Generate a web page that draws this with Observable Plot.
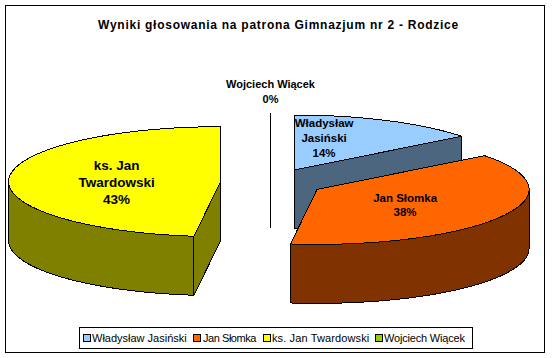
<!DOCTYPE html>
<html><head><meta charset="utf-8">
<script src="https://cdn.jsdelivr.net/npm/d3@7"></script>
<script src="https://cdn.jsdelivr.net/npm/@observablehq/plot@0.6"></script>
<style>
html,body{margin:0;padding:0;background:#fff}
#c{position:relative;width:555px;height:358px;overflow:hidden;font-family:"Liberation Sans",Arial,sans-serif;color:#000}
#c svg{position:absolute;left:0;top:0}
#frame{position:absolute;left:5px;top:5px;width:538px;height:346px;border:1px solid #000;box-sizing:content-box}
#title{position:absolute;left:0;width:555px;top:17px;text-align:center;padding-left:1px;font-weight:bold;font-size:12px;letter-spacing:.735px;line-height:16px;white-space:nowrap}
#legend{position:absolute;left:79px;top:327px;width:392px;height:20px;border:1px solid #000;background:#fff}
#legend i{position:absolute;top:6px;width:6px;height:6px;border:1px solid #000}
#legend span{position:absolute;top:3px;font-size:11px;line-height:14px;white-space:nowrap}
</style></head><body>
<div id="c"><div id="frame"></div><div id="title"></div><div id="plot"></div><div id="legend"></div></div>
<script>
const title = "Wyniki głosowania na patrona Gimnazjum nr 2 - Rodzice";
const names = ["Władysław Jasiński", "Jan Słomka", "ks. Jan Twardowski", "Wojciech Wiącek"];
const labels = ["Władysław\nJasiński\n14%", "Jan Słomka\n38%", "ks. Jan\nTwardowski\n43%", "Wojciech Wiącek\n0%"];
const shares = [14.5, 37.5, 48, 0];        // drawn sweep
const topColors = ["#99CCFF", "#FF6600", "#FFFF00", "#99CC00"];
const sideColors = ["#4D6680", "#803300", "#808000", "#4D6600"];

// pie geometry in rim-radius units
const explode = [0.253, 0.253, 0.236, 0.253];
const ASPECT = 55 / 212, DEPTH = 59 / 212;
const pxX = 212, cx0 = 270, cy0 = 182;
const rad = d => d * Math.PI / 180;

let a = 0;
const slices = shares.map((s, i) => {
  const start = a, end = a + s * 3.6; a = end;
  const mid = rad((start + end) / 2);
  return {i, start, end, cx: Math.sin(mid) * explode[i], cy: Math.cos(mid) * explode[i] * ASPECT};
});
const rim = (sl, deg, drop = 0) => ({x: sl.cx + Math.sin(rad(deg)), y: sl.cy + Math.cos(rad(deg)) * ASPECT - drop});
const arc = (sl, from, to, drop = 0) => {
  const n = Math.max(2, Math.ceil(Math.abs(to - from) / 2));
  return d3.range(n + 1).map(k => rim(sl, from + (to - from) * k / n, drop));
};
const ctr = (sl, drop = 0) => ({x: sl.cx, y: sl.cy - drop});
const poly = (pts, fill) => Plot.line([...pts, pts[0]], {x: "x", y: "y", fill, stroke: "#000", strokeWidth: 1, curve: "linear", strokeLinejoin: "miter"});

const [bl, or, ye, wo] = slices;
const marks = [
  // blue: cut face, top
  poly([ctr(bl), rim(bl, bl.end), rim(bl, bl.end, DEPTH), ctr(bl, DEPTH)], sideColors[0]),
  poly([ctr(bl), ...arc(bl, bl.start, bl.end)], topColors[0]),
  // zero slice seen edge-on
  Plot.line([rim(wo, 0), ctr(wo, DEPTH)], {x: "x", y: "y", stroke: "#000", strokeWidth: 1}),
  // yellow: rim, cut face, top
  poly([...arc(ye, ye.start, 270), ...arc(ye, 270, ye.start, DEPTH)], sideColors[2]),
  poly([rim(ye, ye.start), ctr(ye), ctr(ye, DEPTH), rim(ye, ye.start, DEPTH)], sideColors[2]),
  poly([ctr(ye), ...arc(ye, ye.start, ye.end)], topColors[2]),
  // orange: rim, top
  poly([...arc(or, 90, or.end), ...arc(or, or.end, 90, DEPTH)], sideColors[1]),
  poly([ctr(or), ...arc(or, or.start, or.end)], topColors[1]),
  // data labels
  ...[[30, -33, 11.5, 15], [88, 15, 11.5, 14.5], [-104, 0, 13.5, 17], [0, -78, 11, 15]].map(([dx, dy, fontSize, lh], i) =>
    Plot.text([slices[i]], {x: "cx", y: "cy", text: () => labels[i], dx, dy, fontSize, lineHeight: lh / fontSize,
      fontWeight: "bold", fill: "#000", fontFamily: "Liberation Sans"}))
];

const chart = Plot.plot({
  width: 555, height: 358, margin: 0, style: {background: "transparent"},
  x: {axis: null, type: "linear", domain: [-cx0 / pxX, (555 - cx0) / pxX], range: [0, 555]},
  y: {axis: null, type: "linear", domain: [cy0 / pxX, (cy0 - 358) / pxX], range: [0, 358]},
  marks
});
chart.querySelectorAll("path,line").forEach(e => e.setAttribute("shape-rendering", "crispEdges"));
document.getElementById("plot").append(chart);

document.getElementById("title").textContent = title;
const legend = document.getElementById("legend");
const swatchX = [3, 113, 183, 295], textX = [12, 123, 192, 304], spacing = [0, -0.45, 0.12, -0.18];
names.forEach((n, i) => {
  const sw = document.createElement("i");
  sw.style.left = swatchX[i] + "px"; sw.style.background = topColors[i];
  const t = document.createElement("span");
  t.style.left = textX[i] + "px"; t.style.letterSpacing = spacing[i] + "px"; t.textContent = n;
  legend.append(sw, t);
});
</script></body></html>
